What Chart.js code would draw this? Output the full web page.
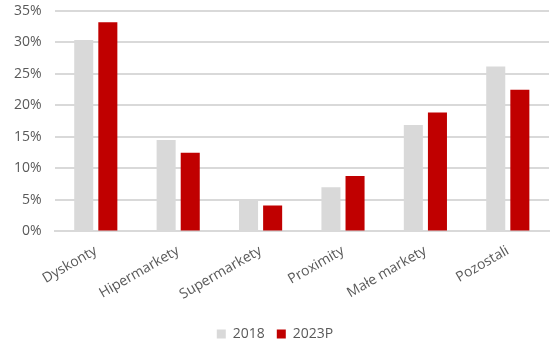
<!DOCTYPE html>
<html lang="pl">
<head>
  <meta charset="UTF-8" />
  <title>Udział kanałów</title>
  <script src="https://cdn.jsdelivr.net/npm/chart.js"></script>
  <style>
    html, body { margin: 0; padding: 0; background: #fff; }
    #wrap { width: 559px; height: 351px; }
  </style>
</head>
<body>
  <div id="wrap"><canvas id="chart"></canvas></div>
  <script>
    // Dane
    const kategorie = ['Dyskonty', 'Hipermarkety', 'Supermarkety', 'Proximity', 'Małe markety', 'Pozostali'];
    const dane2018 = [30.4, 14.5, 5.0, 7.0, 16.9, 26.2];
    const dane2023P = [33.2, 12.5, 4.1, 8.8, 18.9, 22.5];
    const etykietySerii = ['2018', '2023P'];

    const tekst = '#595959';
    const siatka = '#d9d9d9';

    Chart.defaults.font.family = "'Open Sans', 'Liberation Sans', sans-serif";
    Chart.defaults.font.size = 14;
    Chart.defaults.color = tekst;

    new Chart(document.getElementById('chart'), {
      type: 'bar',
      data: {
        labels: kategorie,
        datasets: [
          { label: etykietySerii[0], data: dane2018, backgroundColor: '#d9d9d9' },
          { label: etykietySerii[1], data: dane2023P, backgroundColor: '#c00000' }
        ]
      },
      options: {
        responsive: true,
        maintainAspectRatio: false,
        animation: false,
        layout: { padding: { left: 1, right: 10, top: 11, bottom: 0 } },
        datasets: { bar: { categoryPercentage: 0.585, barPercentage: 0.79 } },
        plugins: {
          legend: {
            position: 'bottom',
            labels: { usePointStyle: true, pointStyle: 'rect', boxWidth: 9, boxHeight: 9, padding: 12 }
          },
          tooltip: { enabled: false }
        },
        scales: {
          x: {
            grid: { display: false },
            border: { color: siatka, width: 2 },
            ticks: { minRotation: 30, maxRotation: 30, padding: 3, font: { size: 14 } },
            afterFit: s => { s.height += 9; }
          },
          y: {
            min: 0, max: 35,
            grid: { color: siatka, lineWidth: 2, drawTicks: false },
            border: { display: false },
            ticks: { stepSize: 5, padding: 13, callback: v => v + '%' },
            afterFit: s => { s.paddingTop = 0; }
          }
        }
      }
    });
  </script>
</body>
</html>
